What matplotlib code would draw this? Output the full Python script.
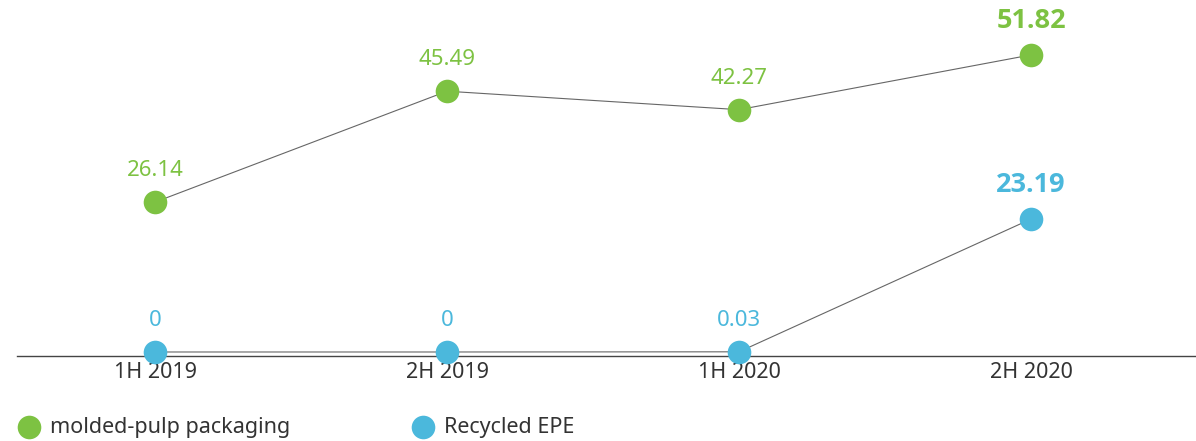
import matplotlib.pyplot as plt
from matplotlib.lines import Line2D

plt.rcParams['font.family'] = ['Noto Sans', 'DejaVu Sans']

periods = ['1H 2019', '2H 2019', '1H 2020', '2H 2020']
pulp = [26.14, 45.49, 42.27, 51.82]
epe = [0, 0, 0.03, 23.19]
pulp_labels = ['26.14', '45.49', '42.27', '51.82']
epe_labels = ['0', '0', '0.03', '23.19']

green = '#7dc242'
blue = '#4bb8dc'

fig = plt.figure(figsize=(11.96, 4.41), dpi=100)
ax = fig.add_axes([17 / 1196, 85 / 441, 1 - 17 / 1196, 356 / 441])

x = list(range(len(periods)))

# connecting lines (thin grey) under the markers
ax.plot(x, pulp, color='#666666', lw=0.8, zorder=1)
ax.plot(x, epe, color='#666666', lw=0.8, zorder=1)
ax.plot(x, pulp, 'o', color=green, ms=17, mec='none', zorder=3)
ax.plot(x, epe, 'o', color=blue, ms=17, mec='none', zorder=3)

# value labels, last one bold and larger
for vals, labels, c in [(pulp, pulp_labels, green), (epe, epe_labels, blue)]:
    for i in x:
        if i == len(x) - 1:
            ax.annotate(labels[i], (i, vals[i]), xytext=(0, 24.5),
                        textcoords='offset points', ha='center', va='center',
                        color=c, fontsize=19.5, fontweight='bold',
                        family=['Open Sans', 'DejaVu Sans'])
        else:
            ax.annotate(labels[i], (i, vals[i]), xytext=(0, 22.5),
                        textcoords='offset points', ha='center', va='center',
                        color=c, fontsize=16)

ax.set_xlim(-0.4726, 3.565)
ax.set_ylim(-0.7, 61.4)

for s in ['top', 'right', 'left']:
    ax.spines[s].set_visible(False)
ax.spines['bottom'].set_color('#444444')
ax.spines['bottom'].set_linewidth(1.0)
ax.set_yticks([])
ax.set_xticks(x)
ax.set_xticklabels(periods, fontsize=15.5, color='#333333')
ax.tick_params(axis='x', length=0, pad=4)
for line in ax.lines:
    line.set_clip_on(False)

# legend drawn by hand at the bottom
legend = [('molded-pulp packaging', green, 29), ('Recycled EPE', blue, 423)]
for name, c, px in legend:
    fig.add_artist(Line2D([px / 1196], [1 - 427 / 441], marker='o', ms=17, color=c,
                          mec='none', transform=fig.transFigure))
    fig.text((px + 21) / 1196, 1 - 427 / 441, name, fontsize=15.5, color='#333333',
             va='center', ha='left')

fig.savefig('out.png', dpi=100)
